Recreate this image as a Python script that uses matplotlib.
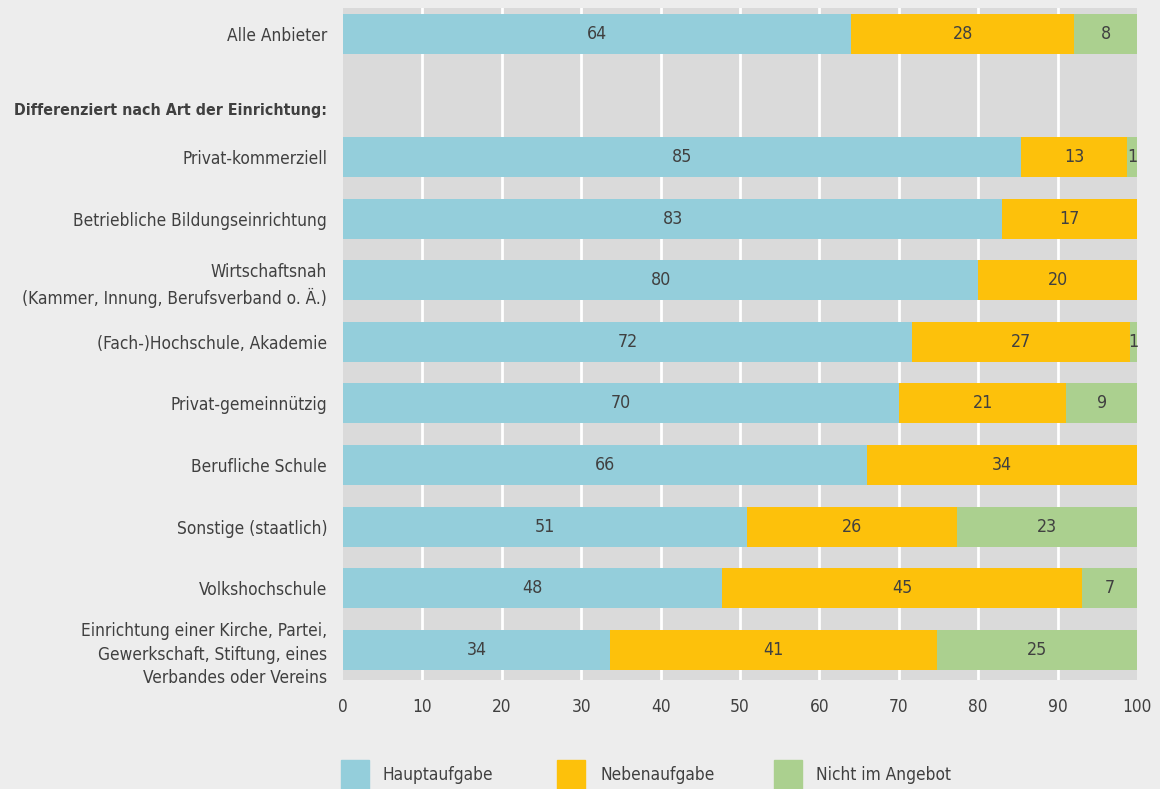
import matplotlib.pyplot as plt
from matplotlib.patches import Rectangle
from matplotlib import font_manager

# Anteile in Prozent
categories = [
    "Alle Anbieter",
    "",
    "Privat-kommerziell",
    "Betriebliche Bildungseinrichtung",
    "Wirtschaftsnah\n(Kammer, Innung, Berufsverband o. Ä.)",
    "(Fach-)Hochschule, Akademie",
    "Privat-gemeinnützig",
    "Berufliche Schule",
    "Sonstige (staatlich)",
    "Volkshochschule",
    "Einrichtung einer Kirche, Partei,\nGewerkschaft, Stiftung, eines\nVerbandes oder Vereins",
]
haupt = [64.0, None, 85.4, 83.0, 80.0, 71.7, 70.0, 66.0, 50.9, 47.7, 33.6]
neben = [28.1, None, 13.4, 17.0, 20.0, 27.4, 21.1, 34.0, 26.4, 45.4, 41.2]
nicht = [7.9, None, 1.2, 0.0, 0.0, 0.9, 8.9, 0.0, 22.7, 6.9, 25.2]
heading = "Differenziert nach Art der Einrichtung:"
series_names = ["Hauptaufgabe", "Nebenaufgabe", "Nicht im Angebot"]
colors = ["#94cedb", "#fdc10b", "#abd08f"]

# schmale Schrift suchen, sonst DejaVu Sans kleiner
fs = 10.5
fam = "DejaVu Sans"
path = font_manager.findfont(font_manager.FontProperties(family="DejaVu Sans", stretch="condensed"))
if "Condensed" in path:
    plt.rcParams["font.stretch"] = "condensed"
    fs = 12.4
plt.rcParams["font.family"] = [fam]
txt = "#404040"

fig = plt.figure(figsize=(11.6, 7.89), dpi=100, facecolor="#ededed")
ax = fig.add_axes([343 / 1160, 1 - 680 / 789, 794 / 1160, 672 / 789])
ax.set_facecolor("#dadada")

for i in range(len(categories)):
    if haupt[i] is None:
        continue
    left = 0
    for vals, c in zip([haupt, neben, nicht], colors):
        v = vals[i]
        if v <= 0:
            continue
        ax.barh(i, v, left=left, height=0.65, color=c, zorder=3)
        ax.text(left + v / 2, i, f"{v:.0f}", ha="center", va="center",
                fontsize=fs + 0.4, color=txt, zorder=4)
        left += v

ax.set_xlim(0, 100)
ax.set_ylim(10.49, -0.42)
ax.set_xticks(range(0, 101, 10))
ax.set_yticks(range(len(categories)))
ax.set_yticklabels(categories, fontsize=fs, color=txt, linespacing=1.4)
ax.tick_params(axis="both", length=0, colors=txt, labelsize=fs)
ax.tick_params(axis="y", pad=11.5)
ax.tick_params(axis="x", pad=13)
for x in range(10, 100, 10):
    ax.axvline(x, color="white", linewidth=2, zorder=1)
for s in ax.spines.values():
    s.set_visible(False)

ax.text(-0.02, 1.25, heading, transform=ax.get_yaxis_transform(),
        ha="right", va="center", fontsize=fs * 0.92, fontweight="bold", color=txt)

# Legende
for name, c, xs, xt in zip(series_names, colors, [341, 557, 774], [383, 600, 816]):
    fig.add_artist(Rectangle((xs / 1160, 0), 28 / 1160, 29 / 789,
                             transform=fig.transFigure, color=c))
    fig.text(xt / 1160, 1 - 775 / 789, name, fontsize=fs, color=txt,
             ha="left", va="center")

fig.savefig("out.png", dpi=100, facecolor=fig.get_facecolor())
